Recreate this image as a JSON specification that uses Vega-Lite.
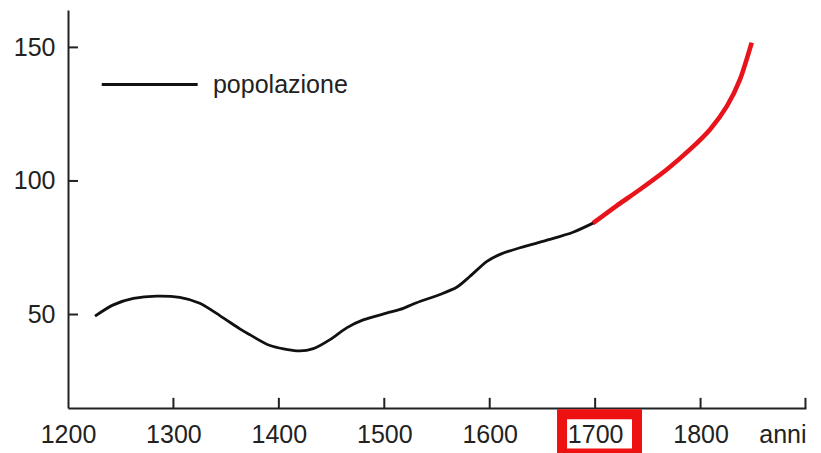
{
  "$schema": "https://vega.github.io/schema/vega-lite/v6.json",
  "width": 738,
  "height": 398,
  "autosize": "none",
  "padding": {"left": 68, "top": 10, "right": 15, "bottom": 45},
  "background": "white",
  "config": {
    "view": {"stroke": null},
    "font": "Liberation Sans",
    "axis": {
      "domainColor": "#222",
      "domainWidth": 2,
      "ticks": false,
      "grid": false,
      "labelFont": "Liberation Sans",
      "labelFontSize": 25,
      "labelColor": "#222",
      "title": null
    }
  },
  "datasets": {
    "pop": [
      {"year": 1225.6, "value": 49.4, "part": "a"},
      {"year": 1243, "value": 53.6, "part": "a"},
      {"year": 1262, "value": 56.0, "part": "a"},
      {"year": 1284, "value": 56.9, "part": "a"},
      {"year": 1306, "value": 56.4, "part": "a"},
      {"year": 1325, "value": 54.2, "part": "a"},
      {"year": 1344, "value": 49.6, "part": "a"},
      {"year": 1363, "value": 44.6, "part": "a"},
      {"year": 1372.6, "value": 42.4, "part": "a"},
      {"year": 1391.6, "value": 38.4, "part": "a"},
      {"year": 1417, "value": 36.4, "part": "a"},
      {"year": 1432.7, "value": 37.2, "part": "a"},
      {"year": 1448.5, "value": 40.6, "part": "a"},
      {"year": 1464.3, "value": 45.0, "part": "a"},
      {"year": 1480, "value": 48.0, "part": "a"},
      {"year": 1502, "value": 50.5, "part": "a"},
      {"year": 1515, "value": 51.9, "part": "a"},
      {"year": 1530.7, "value": 54.4, "part": "a"},
      {"year": 1552.8, "value": 57.5, "part": "a"},
      {"year": 1568.7, "value": 60.2, "part": "a"},
      {"year": 1581.3, "value": 64.3, "part": "a"},
      {"year": 1597, "value": 69.8, "part": "a"},
      {"year": 1609.8, "value": 72.5, "part": "a"},
      {"year": 1628.7, "value": 75.0, "part": "a"},
      {"year": 1657, "value": 78.1, "part": "a"},
      {"year": 1679, "value": 80.8, "part": "a"},
      {"year": 1699, "value": 84.4, "part": "a"},
      {"year": 1698, "value": 84.2, "part": "b"},
      {"year": 1720, "value": 90.6, "part": "b"},
      {"year": 1742.5, "value": 96.8, "part": "b"},
      {"year": 1768, "value": 104.3, "part": "b"},
      {"year": 1790, "value": 111.8, "part": "b"},
      {"year": 1809, "value": 119.3, "part": "b"},
      {"year": 1825, "value": 128.0, "part": "b"},
      {"year": 1837.4, "value": 138.0, "part": "b"},
      {"year": 1848.5, "value": 151.8, "part": "b"}
    ],
    "xticks": [
      {"year": 1300, "lo": 15, "hi": 18.8},
      {"year": 1400, "lo": 15, "hi": 18.8},
      {"year": 1500, "lo": 15, "hi": 18.8},
      {"year": 1600, "lo": 15, "hi": 18.8},
      {"year": 1700, "lo": 15, "hi": 18.8},
      {"year": 1800, "lo": 15, "hi": 18.8},
      {"year": 1899.5, "lo": 15, "hi": 18.8}
    ],
    "yticks": [
      {"value": 50, "lo": 1200, "hi": 1209.5},
      {"value": 100, "lo": 1200, "hi": 1209.5},
      {"value": 150, "lo": 1200, "hi": 1209.5}
    ],
    "legend": [
      {"x": 1232, "x2": 1323, "y": 136.1, "label": "popolazione", "tx": 1337.5}
    ],
    "box": [
      {"x": 1668.6, "x2": 1739.7, "y": 12.7, "y2": -2.0}
    ]
  },
  "layer": [
    {
      "data": {"name": "pop"},
      "transform": [{"filter": "datum.part == 'a'"}],
      "mark": {"type": "line", "color": "#111", "strokeWidth": 2.8, "interpolate": "cardinal", "tension": 0.2},
      "encoding": {
        "x": {
          "field": "year", "type": "quantitative",
          "scale": {"domain": [1200, 1900], "nice": false, "zero": false},
          "axis": {
            "values": [1200, 1300, 1400, 1500, 1600, 1700, 1800, 1900],
            "labelExpr": "datum.value == 1900 ? 'anni' : datum.label",
            "labelAlign": {"condition": {"test": "datum.value == 1900", "value": "right"}, "value": "center"},
            "labelFlush": false,
            "labelPadding": 14,
            "labelBaseline": "top",
            "format": "d"
          }
        },
        "y": {
          "field": "value", "type": "quantitative",
          "scale": {"domain": [15, 164], "nice": false, "zero": false},
          "axis": {"values": [50, 100, 150], "labelPadding": 13}
        }
      }
    },
    {
      "data": {"name": "pop"},
      "transform": [{"filter": "datum.part == 'b'"}],
      "mark": {"type": "line", "color": "#e8141b", "strokeWidth": 4.6, "interpolate": "cardinal", "tension": 0.2},
      "encoding": {
        "x": {"field": "year", "type": "quantitative"},
        "y": {"field": "value", "type": "quantitative"}
      }
    },
    {
      "data": {"name": "xticks"},
      "mark": {"type": "rule", "color": "#222", "strokeWidth": 2},
      "encoding": {
        "x": {"field": "year", "type": "quantitative"},
        "y": {"field": "lo", "type": "quantitative"},
        "y2": {"field": "hi"}
      }
    },
    {
      "data": {"name": "yticks"},
      "mark": {"type": "rule", "color": "#222", "strokeWidth": 2},
      "encoding": {
        "y": {"field": "value", "type": "quantitative"},
        "x": {"field": "lo", "type": "quantitative"},
        "x2": {"field": "hi"}
      }
    },
    {
      "data": {"name": "legend"},
      "mark": {"type": "rule", "color": "#111", "strokeWidth": 2.8},
      "encoding": {
        "x": {"field": "x", "type": "quantitative"},
        "x2": {"field": "x2"},
        "y": {"field": "y", "type": "quantitative"}
      }
    },
    {
      "data": {"name": "legend"},
      "mark": {"type": "text", "align": "left", "baseline": "middle", "fontSize": 25, "font": "Liberation Sans", "color": "#222"},
      "encoding": {
        "x": {"field": "tx", "type": "quantitative"},
        "y": {"field": "y", "type": "quantitative"},
        "text": {"field": "label"}
      }
    },
    {
      "data": {"name": "box"},
      "mark": {"type": "rect", "filled": false, "stroke": "#ee1111", "strokeWidth": 10},
      "encoding": {
        "x": {"field": "x", "type": "quantitative"},
        "x2": {"field": "x2"},
        "y": {"field": "y", "type": "quantitative"},
        "y2": {"field": "y2"}
      }
    }
  ]
}
